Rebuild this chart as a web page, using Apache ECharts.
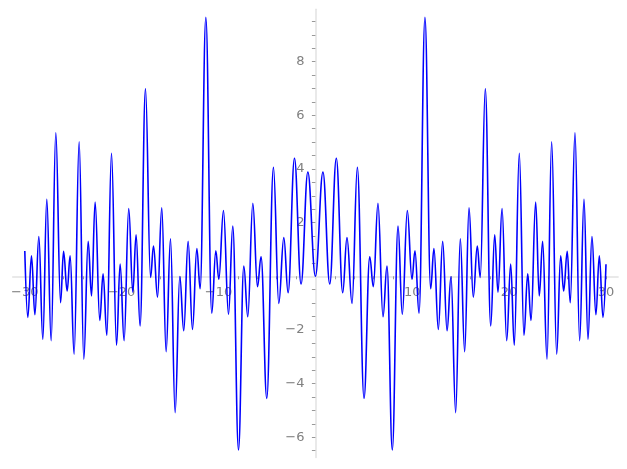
<!DOCTYPE html>
<html>
<head>
<meta charset="utf-8">
<script src="https://cdn.jsdelivr.net/npm/echarts@6/dist/echarts.min.js"></script>
<style>
    html, body { margin: 0; padding: 0; background: #fff; }
    #chart { width: 627px; height: 469px; }
</style>
</head>
<body>
<div id="chart"></div>
<script>
// local maxima / minima of the curve
const xValues = [
    -30.0, -29.69, -29.31, -28.96, -28.55, -28.14, -27.73, -27.28, -26.80, -26.31,
    -26.00, -25.63, -25.32, -24.91, -24.39, -23.91, -23.46, -23.11, -22.74, -22.26,
    -21.92, -21.53, -21.05, -20.53, -20.16, -19.75, -19.27, -18.85, -18.51, -18.10,
    -17.54, -17.02, -16.71, -16.30, -15.86, -15.41, -14.96, -14.48, -14.00, -13.59,
    -13.14, -12.69, -12.24, -11.90, -11.31, -10.70, -10.28, -9.97, -9.49, -8.97,
    -8.53, -7.94, -7.39, -6.98, -6.46, -5.98, -5.61, -5.02, -4.33, -3.78,
    -3.26, -2.82, -2.16, -1.48, -0.78,
    0,
    0.78, 1.48, 2.16, 2.82, 3.26, 3.78, 4.33, 5.02, 5.61, 5.98,
    6.46, 6.98, 7.39, 7.94, 8.53, 8.97, 9.49, 9.97, 10.28, 10.70,
    11.31, 11.90, 12.24, 12.69, 13.14, 13.59, 14.00, 14.48, 14.96, 15.41,
    15.86, 16.30, 16.71, 17.02, 17.54, 18.10, 18.51, 18.85, 19.27, 19.75,
    20.16, 20.53, 21.05, 21.53, 21.92, 22.26, 22.74, 23.11, 23.46, 23.91,
    24.39, 24.91, 25.32, 25.63, 26.00, 26.31, 26.80, 27.28, 27.73, 28.14,
    28.55, 28.96, 29.31, 29.69, 30.0
]
const yValues = [
    0.94, -1.53, 0.76, -1.43, 1.48, -2.35, 2.87, -2.40, 5.35, -0.98,
    0.93, -0.55, 0.76, -2.90, 5.01, -3.09, 1.30, -0.73, 2.77, -1.65,
    0.09, -2.20, 4.58, -2.57, 0.46, -2.40, 2.52, -0.59, 1.55, -1.85,
    6.99, -0.04, 1.13, -0.78, 2.55, -2.81, 1.40, -5.08, -0.01, -2.03,
    1.30, -1.98, 1.03, -0.46, 9.65, -1.38, 0.95, -0.11, 2.45, -1.42,
    1.87, -6.47, 0.38, -1.51, 2.72, -0.39, 0.73, -4.55, 4.06, -1.01,
    1.44, -0.61, 4.40, -0.29, 3.88,
    0,
    3.88, -0.29, 4.40, -0.61, 1.44, -1.01, 4.06, -4.55, 0.73, -0.39,
    2.72, -1.51, 0.38, -6.47, 1.87, -1.42, 2.45, -0.11, 0.95, -1.38,
    9.65, -0.46, 1.03, -1.98, 1.30, -2.03, -0.01, -5.08, 1.40, -2.81,
    2.55, -0.78, 1.13, -0.04, 6.99, -1.85, 1.55, -0.59, 2.52, -2.40,
    0.46, -2.57, 4.58, -2.20, 0.09, -1.65, 2.77, -0.73, 1.30, -3.09,
    5.01, -2.90, 0.76, -0.55, 0.93, -0.98, 5.35, -2.40, 2.87, -2.35,
    1.48, -1.43, 0.76, -1.53, 0.45
]

const xLabelValues = [-30, -20, -10, 10, 20, 30]
const xTickValues = [-30, -28, -26, -24, -22, -20, -18, -16, -14, -12, -10, -8, -6, -4, -2,
    2, 4, 6, 8, 10, 12, 14, 16, 18, 20, 22, 24, 26, 28, 30]
const yLabelValues = [-6, -4, -2, 2, 4, 6, 8]
const yTickValues = [-6.5, -6, -5.5, -5, -4.5, -4, -3.5, -3, -2.5, -2, -1.5, -1, -0.5,
    0.5, 1, 1.5, 2, 2.5, 3, 3.5, 4, 4.5, 5, 5.5, 6, 6.5, 7, 7.5, 8, 8.5, 9, 9.5]

const points = xValues.map((x, i) => [x, yValues[i]])

const labelColor = '#808080'
const lineColor = '#e2e2e2'
const tickColor = '#999999'
const fontFamily = 'DejaVu Sans'
const fmt = v => String(v).replace('-', '\u2212')

// plot box (px) and axis ranges; axes are shifted onto x = 0 / y = 0
const gridLeft = 12.7, gridRight = 8.9, gridTop = 9.3, gridBottom = 11.6
const xMin = -31.25, xMax = 31.25, yMin = -6.75, yMax = 9.95
const plotW = 627 - gridLeft - gridRight
const plotH = 469 - gridTop - gridBottom
const xShift = -plotW * (0 - xMin) / (xMax - xMin)
const yShift = -plotH * (0 - yMin) / (yMax - yMin)

const chart = echarts.init(document.getElementById('chart'))
chart.setOption({
    animation: false,
    backgroundColor: '#ffffff',
    grid: {left: gridLeft, right: gridRight, top: gridTop, bottom: gridBottom, outerBoundsMode: 'none', containLabel: false},
    xAxis: {
        type: 'value',
        position: 'bottom',
        offset: yShift,
        min: xMin,
        max: xMax,
        axisLine: {onZero: false, lineStyle: {color: lineColor, width: 1.5}},
        axisTick: {customValues: xTickValues, length: 3, lineStyle: {color: tickColor}},
        axisLabel: {
            customValues: xLabelValues,
            formatter: fmt,
            color: labelColor,
            fontSize: 13,
            fontFamily: fontFamily,
            margin: 10
        },
        splitLine: {show: false}
    },
    yAxis: {
        type: 'value',
        position: 'left',
        offset: xShift,
        min: yMin,
        max: yMax,
        axisLine: {onZero: false, lineStyle: {color: lineColor, width: 1.5}},
        axisTick: {customValues: yTickValues, length: 3.5, lineStyle: {color: tickColor}},
        axisLabel: {
            customValues: yLabelValues,
            formatter: fmt,
            color: labelColor,
            fontSize: 13,
            fontFamily: fontFamily,
            margin: 11
        },
        splitLine: {show: false}
    },
    series: [
        {
            type: 'line',
            data: points,
            showSymbol: false,
            smooth: 0.4,
            smoothMonotone: 'x',
            lineStyle: {color: '#0000ff', width: 1.6},
            z: 5
        }
    ]
})
</script>
</body>
</html>
